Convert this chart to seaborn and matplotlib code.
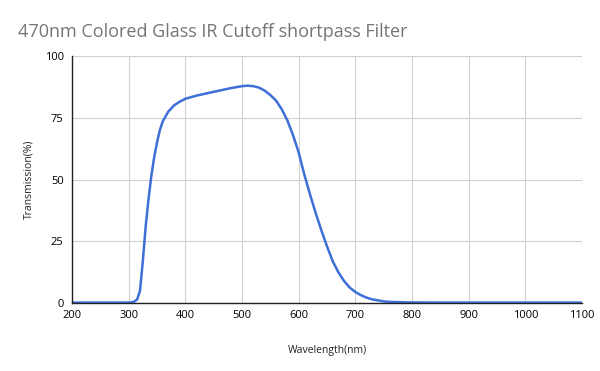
import matplotlib
matplotlib.use("Agg")
import matplotlib.pyplot as plt
import seaborn as sns
import pandas as pd

wavelength = [200, 250, 300, 305, 310, 315, 320, 325, 330, 335, 340, 345, 350, 355, 360,
              370, 380, 390, 400, 420, 440, 460, 480, 500, 510, 520, 530, 540, 550, 560,
              570, 580, 590, 600, 610, 620, 630, 640, 650, 660, 670, 680, 690, 700, 710,
              720, 730, 740, 750, 760, 780, 800, 850, 900, 1000, 1100]
transmission = [0.2, 0.2, 0.2, 0.3, 0.6, 1.5, 5, 17, 31, 42, 51.5, 59, 65, 70, 73.5,
                77.5, 80, 81.5, 82.7, 84, 85, 86, 87, 87.8, 88, 87.8, 87.2, 86, 84.2, 82,
                78.5, 74, 68, 61, 52, 44, 36.5, 29.5, 23, 17, 12.5, 9, 6.3, 4.5, 3.2,
                2.2, 1.5, 1.1, 0.7, 0.5, 0.35, 0.25, 0.2, 0.2, 0.2, 0.2]
x_ticks = [200, 300, 400, 500, 600, 700, 800, 900, 1000, 1100]
y_ticks = [0, 25, 50, 75, 100]

df = pd.DataFrame({"Wavelength": wavelength, "Transmission": transmission})

sns.set_theme(style="whitegrid")
plt.rcParams['font.family'] = ['Open Sans', 'DejaVu Sans']

fig = plt.figure(figsize=(6, 3.71), dpi=100)
ax = fig.add_axes([0.12, 0.183, 0.85, 0.666])
sns.lineplot(data=df, x="Wavelength", y="Transmission", ax=ax, color="#3d6fd6", linewidth=1.8)

ax.set_xlim(200, 1100)
ax.set_ylim(0, 100)
ax.set_xticks(x_ticks)
ax.set_yticks(y_ticks)
ax.tick_params(axis='x', labelsize=8, colors='#000000', length=0, pad=5)
ax.tick_params(axis='y', labelsize=8, colors='#000000', length=0, pad=6)
ax.grid(True, color='#d0d0d0', linewidth=0.8)
for s in ['top', 'right']:
    ax.spines[s].set_visible(False)
for s in ['left', 'bottom']:
    ax.spines[s].set_visible(True)
    ax.spines[s].set_color('#222222')
    ax.spines[s].set_linewidth(1.0)
ax.set_xlabel("Wavelength(nm)", fontsize=7.5, labelpad=17, color='#222222')
ax.set_ylabel("Transmission(%)", fontsize=7.5, color='#222222')
ax.yaxis.set_label_coords(-0.085, 0.5)
ax.yaxis.label.set_verticalalignment('center')
fig.text(0.03, 0.915, "470nm Colored Glass IR Cutoff shortpass Filter", fontsize=13,
         color='#757575', ha='left', va='center')
fig.savefig("out.png", dpi=100, facecolor='white')
